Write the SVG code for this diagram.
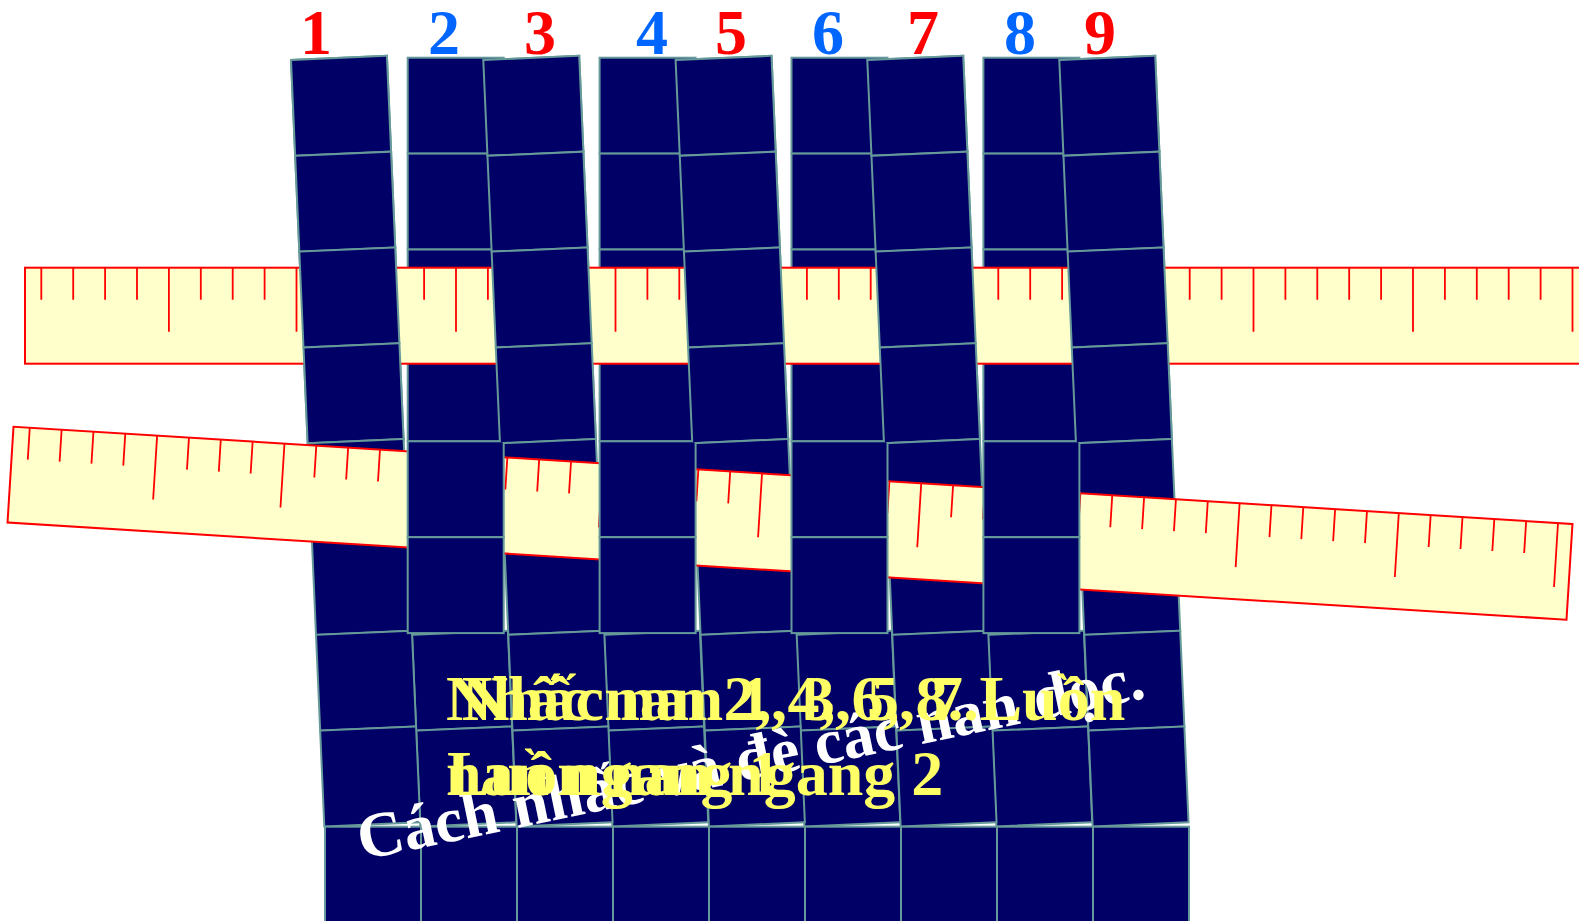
<svg xmlns="http://www.w3.org/2000/svg" xmlns:xlink="http://www.w3.org/1999/xlink" width="1579" height="921" viewBox="0 0 1579 921">
<style>
.cell{fill:#000066;stroke:#669999;stroke-width:2}
.rbody{fill:#FFFFCC;stroke:#FF0000;stroke-width:2}
.tick{stroke:#FF0000;stroke-width:1.8;fill:none}
.num{font-family:"Liberation Serif","Times New Roman",serif;font-weight:bold;font-size:64px;text-anchor:middle}
.odd{fill:#FF0000}
.even{fill:#0066FF}
.say{font-family:"Liberation Serif","Times New Roman",serif;font-weight:bold;font-size:64px}
.yel{fill:#FFFF66}
.wht{fill:#FFFFFF}
</style>
<defs>
<rect id="cell" class="cell" width="96" height="95.9"/>
<g id="ruler">
<rect class="rbody" x="0" y="0" width="1562" height="96"/>
<path class="tick" d="M16.3 0V32M48.2 0V32M80.1 0V32M112 0V32M143.9 0V64M175.8 0V32M207.7 0V32M239.6 0V32M271.5 0V64M303.4 0V32M335.3 0V32M367.2 0V32M399.1 0V32M431 0V64M462.9 0V32M494.8 0V32M526.7 0V32M558.6 0V32M590.5 0V64M622.4 0V32M654.3 0V32M686.2 0V32M718.1 0V32M750 0V64M781.9 0V32M813.8 0V32M845.7 0V32M877.6 0V32M909.5 0V64M941.4 0V32M973.3 0V32M1005.2 0V32M1037.1 0V32M1069 0V64M1100.9 0V32M1132.8 0V32M1164.7 0V32M1196.6 0V32M1228.5 0V64M1260.4 0V32M1292.3 0V32M1324.2 0V32M1356.1 0V32M1388 0V64M1419.9 0V32M1451.8 0V32M1483.7 0V32M1515.6 0V32M1547.5 0V64"/>
</g>
<g id="tiltstrip">
<use xlink:href="#cell" href="#cell" y="0"/>
<use xlink:href="#cell" href="#cell" y="95.9"/>
<use xlink:href="#cell" href="#cell" y="191.8"/>
<use xlink:href="#cell" href="#cell" y="287.7"/>
<use xlink:href="#cell" href="#cell" y="383.6"/>
<use xlink:href="#cell" href="#cell" y="479.5"/>
<use xlink:href="#cell" href="#cell" y="575.4"/>
<use xlink:href="#cell" href="#cell" y="671.3"/>
</g>
<g id="tiltlow">
<use xlink:href="#cell" href="#cell" y="575.4"/>
<use xlink:href="#cell" href="#cell" y="671.3"/>
</g>
<g id="straightstrip">
<use xlink:href="#cell" href="#cell" y="0"/>
<use xlink:href="#cell" href="#cell" y="95.9"/>
<use xlink:href="#cell" href="#cell" y="191.8"/>
<use xlink:href="#cell" href="#cell" y="287.7"/>
<use xlink:href="#cell" href="#cell" y="383.6"/>
<use xlink:href="#cell" href="#cell" y="479.5"/>
</g>
<clipPath id="topClip"><rect x="0" y="0" width="1579" height="442"/></clipPath>
</defs>
<rect width="1579" height="921" fill="#FFFFFF"/>

<g id="lower-even-columns">
<use xlink:href="#tiltlow" href="#tiltlow" transform="translate(387,60) rotate(-2.49)"/>
<use xlink:href="#tiltlow" href="#tiltlow" transform="translate(579,60) rotate(-2.49)"/>
<use xlink:href="#tiltlow" href="#tiltlow" transform="translate(771,60) rotate(-2.49)"/>
<use xlink:href="#tiltlow" href="#tiltlow" transform="translate(963,60) rotate(-2.49)"/>
</g>

<g id="odd-strips">
<g id="strip-1"><use xlink:href="#tiltstrip" href="#tiltstrip" transform="translate(291,60) rotate(-2.49)"/></g>
<g id="strip-3"><use xlink:href="#tiltstrip" href="#tiltstrip" transform="translate(483.3,60) rotate(-2.49)"/></g>
<g id="strip-5"><use xlink:href="#tiltstrip" href="#tiltstrip" transform="translate(675.6,60) rotate(-2.49)"/></g>
<g id="strip-7"><use xlink:href="#tiltstrip" href="#tiltstrip" transform="translate(867.3,60) rotate(-2.49)"/></g>
<g id="strip-9"><use xlink:href="#tiltstrip" href="#tiltstrip" transform="translate(1059.3,60) rotate(-2.49)"/></g>
</g>

<g id="ruler-2"><use xlink:href="#ruler" href="#ruler" transform="translate(13.5,426.7) rotate(3.57)"/></g>

<g id="even-strips">
<g id="strip-2"><use xlink:href="#straightstrip" href="#straightstrip" x="407.7" y="57.7"/></g>
<g id="strip-4"><use xlink:href="#straightstrip" href="#straightstrip" x="599.6" y="57.7"/></g>
<g id="strip-6"><use xlink:href="#straightstrip" href="#straightstrip" x="791.5" y="57.7"/></g>
<g id="strip-8"><use xlink:href="#straightstrip" href="#straightstrip" x="983.4" y="57.7"/></g>
</g>

<g id="ruler-1"><use xlink:href="#ruler" href="#ruler" transform="translate(25,267.7)"/></g>

<g id="odd-strips-over">
<use xlink:href="#odd-strips" href="#odd-strips" clip-path="url(#topClip)"/>
</g>

<g id="bottom-row">
<use xlink:href="#cell" href="#cell" x="325" y="826.7"/>
<use xlink:href="#cell" href="#cell" x="421" y="826.7"/>
<use xlink:href="#cell" href="#cell" x="517" y="826.7"/>
<use xlink:href="#cell" href="#cell" x="613" y="826.7"/>
<use xlink:href="#cell" href="#cell" x="709" y="826.7"/>
<use xlink:href="#cell" href="#cell" x="805" y="826.7"/>
<use xlink:href="#cell" href="#cell" x="901" y="826.7"/>
<use xlink:href="#cell" href="#cell" x="997" y="826.7"/>
<use xlink:href="#cell" href="#cell" x="1093" y="826.7"/>
</g>

<g id="numbers">
<text class="num odd" x="316" y="54">1</text>
<text class="num even" x="444" y="54">2</text>
<text class="num odd" x="540" y="54">3</text>
<text class="num even" x="652" y="54">4</text>
<text class="num odd" x="731" y="54">5</text>
<text class="num even" x="828" y="54">6</text>
<text class="num odd" x="923" y="54">7</text>
<text class="num even" x="1020" y="54">8</text>
<text class="num odd" x="1100" y="54">9</text>
</g>

<g id="caption-title">
<text class="say wht" transform="translate(362,860) rotate(-11.7)">Cách nhấc và đè các nan dọc.</text>
</g>

<g id="caption-a">
<text class="say yel" x="446" y="720">Nhấc nan 2, 4, 6, 8. Luồn</text>
<text class="say yel" x="446" y="795">nan ngang 1</text>
</g>
<g id="caption-b">
<text class="say yel" x="461.7" y="720">Nhấc nan 1, 3, 5, 7.</text>
<text class="say yel" x="447" y="795">Luồn nan ngang 2</text>
</g>
</svg>
